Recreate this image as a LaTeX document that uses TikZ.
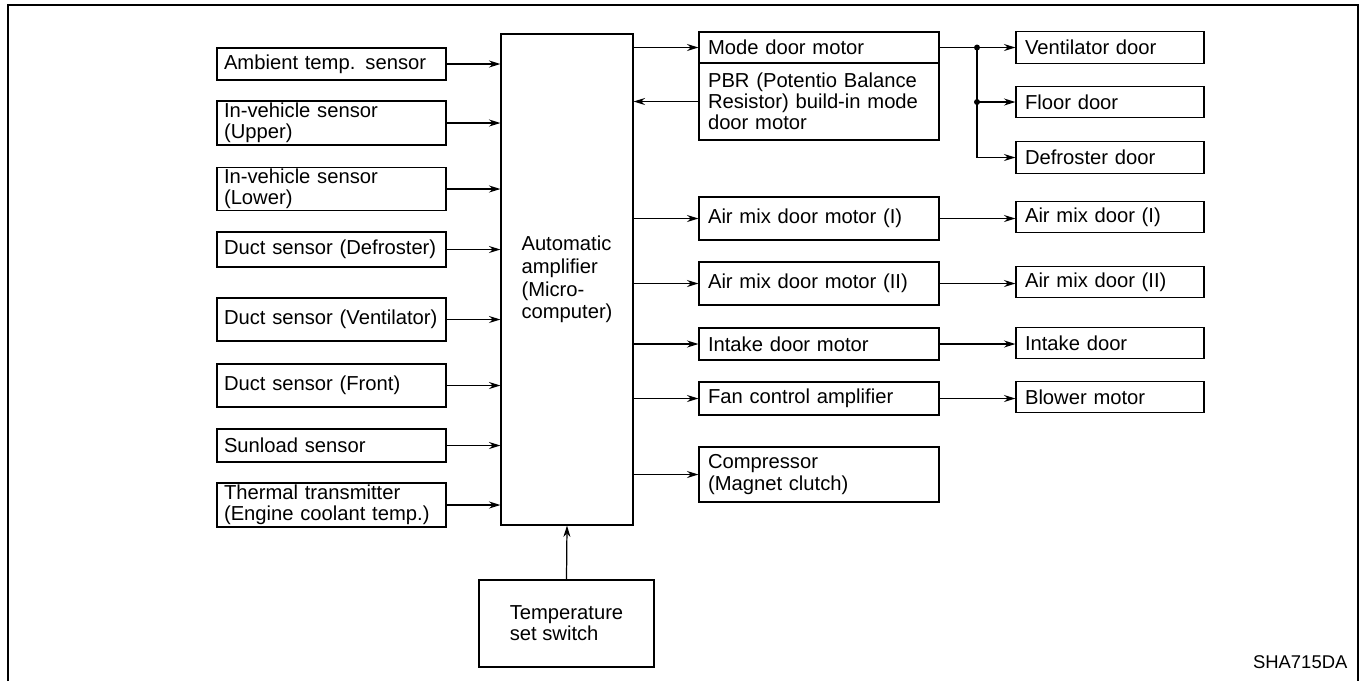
\documentclass[tikz,border=0pt]{standalone}
\usepackage{fontspec}
\setmainfont{Liberation Sans}
\usetikzlibrary{arrows.meta}

\begin{document}
\begin{tikzpicture}[x=0.02cm, y=-0.02cm, line width=0.7pt,
    font=\fontsize{11.5}{12}\selectfont,
    box/.style={rectangle, draw, align=left, inner ysep=1pt},
    sensor/.style={box, text width=4.3cm, inner xsep=0.14cm},
    motor/.style={box, text width=4.44cm, inner xsep=0.18cm},
    door/.style={box, text width=3.4cm, inner xsep=0.18cm, minimum height=0.63cm},
    arr/.style={-{Stealth[length=6.5pt, width=4pt]}}]
    \useasboundingbox (0,0) rectangle (1360,681);
    \draw[line width=0.8pt] (8,681) -- (8,5) -- (1358,5) -- (1358,681);

    % sensors
    \node[sensor, minimum height=0.64cm] (amb) at (331.5,64) {Ambient temp. sensor};
    \node[sensor, minimum height=0.88cm] (upper) at (331.5,123) {In-vehicle sensor\\(Upper)};
    \node[sensor, minimum height=0.84cm] (lower) at (331.5,189) {In-vehicle sensor\\(Lower)};
    \node[sensor, minimum height=0.70cm] (defr) at (331.5,249.5) {Duct sensor (Defroster)};
    \node[sensor, minimum height=0.86cm] (vent) at (331.5,319.5) {Duct sensor (Ventilator)};
    \node[sensor, minimum height=0.86cm] (front) at (331.5,385.5) {Duct sensor (Front)};
    \node[sensor, minimum height=0.66cm] (sun) at (331.5,445.5) {Sunload sensor};
    \node[sensor, minimum height=0.88cm] (therm) at (331.5,505) {Thermal transmitter\\(Engine coolant temp.)};

    % amplifier and switch
    \node[box, minimum width=2.64cm, minimum height=9.82cm, font=\fontsize{11.5}{13}\selectfont] (amp) at (567,279.5) {Automatic\\amplifier\\(Micro-\\computer)};
    \node[box, minimum width=3.5cm, minimum height=1.74cm] (tset) at (566.5,623.5) {Temperature\\set switch};

    % motors
    \node[motor, minimum height=0.62cm] (mode) at (819,47.5) {Mode door motor};
    \node[motor, minimum height=1.54cm] (pbr) at (819,101.5) {PBR (Potentio Balance\\Resistor) build-in mode\\door motor};
    \node[motor, minimum height=0.86cm] (mix1) at (819,218.5) {Air mix door motor (I)};
    \node[motor, minimum height=0.86cm] (mix2) at (819,283.5) {Air mix door motor (II)};
    \node[motor, minimum height=0.64cm] (intake) at (819,344) {Intake door motor};
    \node[motor, minimum height=0.66cm] (fan) at (819,398.5) {Fan control amplifier};
    \node[motor, minimum height=1.10cm] (comp) at (819,474.5) {Compressor\\(Magnet clutch)};

    % doors
    \node[door] (ventd) at (1110,47.5) {Ventilator door};
    \node[door] (floor) at (1110,102) {Floor door};
    \node[door] (defrd) at (1110,157.5) {Defroster door};
    \node[door] (mixd1) at (1110,217) {Air mix door (I)};
    \node[door] (mixd2) at (1110,282) {Air mix door (II)};
    \node[door] (intd) at (1110,343) {Intake door};
    \node[door] (blower) at (1110,397) {Blower motor};

    \node[anchor=base east, inner sep=0pt, font=\fontsize{10.5}{12}\selectfont] (code) at (1348,668) {SHA715DA};

    % connections
    \foreach \s in {amb,upper,lower,defr,vent,front,sun,therm}
        \draw[arr] (\s.east) -- (\s.east -| amp.west);
    \foreach \m in {mode,mix1,mix2,intake,fan,comp}
        \draw[arr] (\m.west -| amp.east) -- (\m.west);
    \draw[arr] (pbr.west) -- (pbr.west -| amp.east);
    \draw[arr] (tset.north) -- (amp.south);

    \coordinate (j1) at (977,47.5);
    \coordinate (j2) at (977,102);
    \draw (mode.east) -- (j1);
    \draw[arr] (j1) -- (ventd.west);
    \draw[arr] (j2) -- (floor.west);
    \draw[arr] (j1) |- (defrd.west);
    \fill (j1) circle (1.7pt);
    \fill (j2) circle (1.7pt);

    \foreach \m/\d in {mix1/mixd1,mix2/mixd2,intake/intd,fan/blower}
        \draw[arr] (\m.east) -- (\m.east -| \d.west);
\end{tikzpicture}
\end{document}
